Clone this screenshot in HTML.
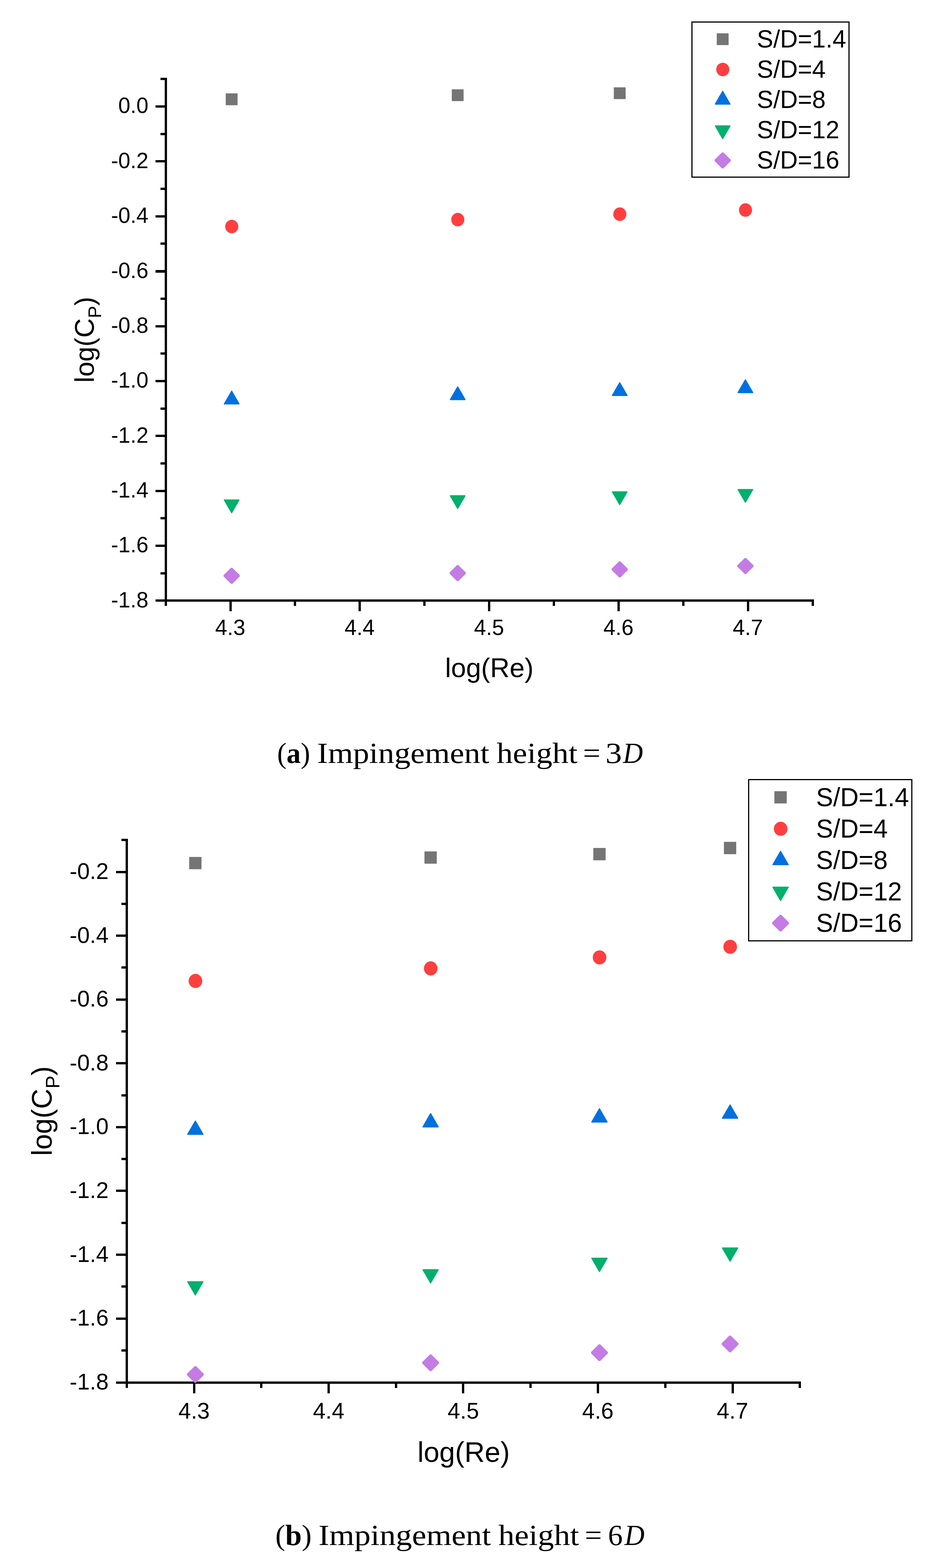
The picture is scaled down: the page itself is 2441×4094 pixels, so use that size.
<!DOCTYPE html>
<html lang="en">
<head>
<meta charset="utf-8">
<title>log(Cp) versus log(Re) for different S/D</title>
<style>
html,body{margin:0;padding:0;background:#fff;}
body{width:2441px;height:4094px;overflow:hidden;}
svg{display:block;}
</style>
</head>
<body>
<svg width="2441" height="4094" viewBox="0 0 2441 4094">
<rect x="0" y="0" width="2441" height="4094" fill="#fff"/>
<g fill="#000" shape-rendering="crispEdges">
<rect x="430" y="203" width="6" height="1379"/>
<rect x="406" y="1565" width="1719" height="6"/>
<rect x="419" y="203" width="11" height="6"/>
<rect x="406" y="275" width="24" height="6"/>
<rect x="419" y="347" width="11" height="6"/>
<rect x="406" y="418" width="24" height="6"/>
<rect x="419" y="490" width="11" height="6"/>
<rect x="406" y="562" width="24" height="6"/>
<rect x="419" y="633" width="11" height="6"/>
<rect x="406" y="705" width="24" height="7"/>
<rect x="419" y="777" width="11" height="6"/>
<rect x="406" y="849" width="24" height="6"/>
<rect x="419" y="920" width="11" height="6"/>
<rect x="406" y="992" width="24" height="6"/>
<rect x="419" y="1064" width="11" height="6"/>
<rect x="406" y="1135" width="24" height="6"/>
<rect x="419" y="1207" width="11" height="6"/>
<rect x="406" y="1279" width="24" height="6"/>
<rect x="419" y="1350" width="11" height="6"/>
<rect x="406" y="1422" width="24" height="6"/>
<rect x="419" y="1494" width="11" height="6"/>
<rect x="599" y="1571" width="6" height="25"/>
<rect x="767" y="1571" width="6" height="11"/>
<rect x="936" y="1571" width="6" height="25"/>
<rect x="1105" y="1571" width="6" height="11"/>
<rect x="1274" y="1571" width="6" height="25"/>
<rect x="1443" y="1571" width="6" height="11"/>
<rect x="1612" y="1571" width="6" height="25"/>
<rect x="1781" y="1571" width="6" height="11"/>
<rect x="1950" y="1571" width="6" height="25"/>
<rect x="2119" y="1571" width="6" height="11"/>
</g>
<g>
<rect x="589.35" y="243.75" width="30.9" height="30.9" rx="0.8" fill="#757575"/>
<rect x="1179.45" y="233.15" width="30.9" height="30.9" rx="0.8" fill="#757575"/>
<rect x="1602.45" y="227.95" width="30.9" height="30.9" rx="0.8" fill="#757575"/>
<rect x="1930.55" y="222.55" width="30.9" height="30.9" rx="0.8" fill="#757575"/>
<ellipse cx="605.05" cy="591.5" rx="17.1" ry="17.7" fill="#ff3f3f"/>
<ellipse cx="1195.15" cy="573.4" rx="17.1" ry="17.7" fill="#ff3f3f"/>
<ellipse cx="1618.15" cy="559.2" rx="17.1" ry="17.7" fill="#ff3f3f"/>
<ellipse cx="1946.25" cy="548.4" rx="17.1" ry="17.7" fill="#ff3f3f"/>
<polygon points="585.8,1054.55 623.8,1054.55 604.8,1021.55" fill="#0070e0" stroke="#0070e0" stroke-width="3" stroke-linejoin="round"/>
<polygon points="1175.9,1043.25 1213.9,1043.25 1194.9,1010.25" fill="#0070e0" stroke="#0070e0" stroke-width="3" stroke-linejoin="round"/>
<polygon points="1598.9,1032.4 1636.9,1032.4 1617.9,999.4" fill="#0070e0" stroke="#0070e0" stroke-width="3" stroke-linejoin="round"/>
<polygon points="1927,1024.9 1965,1024.9 1946,991.9" fill="#0070e0" stroke="#0070e0" stroke-width="3" stroke-linejoin="round"/>
<polygon points="585.8,1305.6 623.8,1305.6 604.8,1338.6" fill="#00b06c" stroke="#00b06c" stroke-width="3" stroke-linejoin="round"/>
<polygon points="1175.9,1294.5 1213.9,1294.5 1194.9,1327.5" fill="#00b06c" stroke="#00b06c" stroke-width="3" stroke-linejoin="round"/>
<polygon points="1598.9,1284.2 1636.9,1284.2 1617.9,1317.2" fill="#00b06c" stroke="#00b06c" stroke-width="3" stroke-linejoin="round"/>
<polygon points="1927,1278.3 1965,1278.3 1946,1311.3" fill="#00b06c" stroke="#00b06c" stroke-width="3" stroke-linejoin="round"/>
<polygon points="603.1,1482.4 606.5,1482.4 625.9,1501.6 625.9,1505 606.5,1524.2 603.1,1524.2 583.7,1505 583.7,1501.6" fill="#c47be3"/>
<polygon points="1193.2,1475.5 1196.6,1475.5 1216,1494.7 1216,1498.1 1196.6,1517.3 1193.2,1517.3 1173.8,1498.1 1173.8,1494.7" fill="#c47be3"/>
<polygon points="1616.2,1465.7 1619.6,1465.7 1639,1484.9 1639,1488.3 1619.6,1507.5 1616.2,1507.5 1596.8,1488.3 1596.8,1484.9" fill="#c47be3"/>
<polygon points="1944.3,1456.9 1947.7,1456.9 1967.1,1476.1 1967.1,1479.5 1947.7,1498.7 1944.3,1498.7 1924.9,1479.5 1924.9,1476.1" fill="#c47be3"/>
</g>
<g font-family='"Liberation Sans", sans-serif' font-size="56.6" fill="#000">
<g text-anchor="end">
<text transform="translate(387.5,295.44) scale(1,1.01)">0.0</text>
<text transform="translate(387.5,438.81) scale(1,1.01)">-0.2</text>
<text transform="translate(387.5,582.18) scale(1,1.01)">-0.4</text>
<text transform="translate(387.5,725.55) scale(1,1.01)">-0.6</text>
<text transform="translate(387.5,868.92) scale(1,1.01)">-0.8</text>
<text transform="translate(387.5,1012.28) scale(1,1.01)">-1.0</text>
<text transform="translate(387.5,1155.65) scale(1,1.01)">-1.2</text>
<text transform="translate(387.5,1299.02) scale(1,1.01)">-1.4</text>
<text transform="translate(387.5,1442.39) scale(1,1.01)">-1.6</text>
<text transform="translate(387.5,1585.76) scale(1,1.01)">-1.8</text>
</g>
<g text-anchor="middle">
<text transform="translate(601.11,1658.1) scale(1,1.01)">4.3</text>
<text transform="translate(938.93,1658.1) scale(1,1.01)">4.4</text>
<text transform="translate(1276.75,1658.1) scale(1,1.01)">4.5</text>
<text transform="translate(1614.57,1658.1) scale(1,1.01)">4.6</text>
<text transform="translate(1952.39,1658.1) scale(1,1.01)">4.7</text>
</g>
</g>
<text x="1277.5" y="1767.8" text-anchor="middle" font-family='"Liberation Sans", sans-serif' font-size="70.5" fill="#000">log(Re)</text>
<text transform="translate(245.1,887) rotate(-90)" text-anchor="middle" font-family='"Liberation Sans", sans-serif' font-size="70.5" fill="#000">log(C<tspan font-size="48.64" dy="19">P</tspan><tspan dy="-19">)</tspan></text>
<rect x="1806.5" y="57.5" width="410" height="405" fill="#fff" stroke="#000" stroke-width="3" shape-rendering="crispEdges"/>
<g font-family='"Liberation Sans", sans-serif' font-size="64" fill="#000">
<rect x="1871.25" y="86.95" width="30.9" height="30.9" rx="0.8" fill="#757575"/>
<text transform="translate(1976,124) scale(1,1.025)">S/D=1.4</text>
<ellipse cx="1886.95" cy="181.5" rx="17.1" ry="17.7" fill="#ff3f3f"/>
<text transform="translate(1976,203.1) scale(1,1.025)">S/D=4</text>
<polygon points="1867.7,271.65 1905.7,271.65 1886.7,238.65" fill="#0070e0" stroke="#0070e0" stroke-width="3" stroke-linejoin="round"/>
<text transform="translate(1976,282.2) scale(1,1.025)">S/D=8</text>
<polygon points="1867.7,328.65 1905.7,328.65 1886.7,361.65" fill="#00b06c" stroke="#00b06c" stroke-width="3" stroke-linejoin="round"/>
<text transform="translate(1976,361.3) scale(1,1.025)">S/D=12</text>
<polygon points="1885,397.9 1888.4,397.9 1907.8,417.1 1907.8,420.5 1888.4,439.7 1885,439.7 1865.6,420.5 1865.6,417.1" fill="#c47be3"/>
<text transform="translate(1976,440.4) scale(1,1.025)">S/D=16</text>
</g>
<g font-family='"Liberation Serif", serif' font-size="77" fill="#000">
<text x="723.42" y="1992.4" textLength="86.35" lengthAdjust="spacingAndGlyphs">(<tspan font-weight="bold">a</tspan>) </text>
<text x="828.12" y="1992.4" textLength="449.32" lengthAdjust="spacingAndGlyphs">Impingement </text>
<text x="1296.6" y="1992.4" textLength="211.21" lengthAdjust="spacingAndGlyphs">height </text>
<text x="1521.9" y="1992.4" textLength="45.61" lengthAdjust="spacingAndGlyphs">= </text>
<text x="1580.66" y="1992.4" textLength="42.72" lengthAdjust="spacingAndGlyphs">3</text>
<text x="1626.14" y="1992.4" textLength="52.17" lengthAdjust="spacingAndGlyphs"><tspan font-style="italic">D</tspan></text>
</g>
<g fill="#000" shape-rendering="crispEdges">
<rect x="328" y="2190" width="6" height="1434"/>
<rect x="303" y="3607" width="1788" height="6"/>
<rect x="317" y="2190" width="11" height="6"/>
<rect x="303" y="2274" width="25" height="6"/>
<rect x="317" y="2357" width="11" height="6"/>
<rect x="303" y="2440" width="25" height="6"/>
<rect x="317" y="2523" width="11" height="6"/>
<rect x="303" y="2607" width="25" height="6"/>
<rect x="317" y="2690" width="11" height="6"/>
<rect x="303" y="2773" width="25" height="6"/>
<rect x="317" y="2857" width="11" height="6"/>
<rect x="303" y="2940" width="25" height="6"/>
<rect x="317" y="3023" width="11" height="6"/>
<rect x="303" y="3106" width="25" height="6"/>
<rect x="317" y="3190" width="11" height="6"/>
<rect x="303" y="3273" width="25" height="6"/>
<rect x="317" y="3356" width="11" height="6"/>
<rect x="303" y="3440" width="25" height="6"/>
<rect x="317" y="3523" width="11" height="6"/>
<rect x="504" y="3613" width="6" height="25"/>
<rect x="679" y="3613" width="6" height="11"/>
<rect x="855" y="3613" width="6" height="25"/>
<rect x="1031" y="3613" width="6" height="11"/>
<rect x="1206" y="3613" width="6" height="25"/>
<rect x="1382" y="3613" width="6" height="11"/>
<rect x="1558" y="3613" width="6" height="25"/>
<rect x="1734" y="3613" width="6" height="11"/>
<rect x="1910" y="3613" width="6" height="25"/>
<rect x="2085" y="3613" width="6" height="11"/>
</g>
<g>
<rect x="493.93" y="2237.43" width="32.14" height="32.14" rx="0.8" fill="#757575"/>
<rect x="1108.13" y="2222.93" width="32.14" height="32.14" rx="0.8" fill="#757575"/>
<rect x="1548.93" y="2214.03" width="32.14" height="32.14" rx="0.8" fill="#757575"/>
<rect x="1889.93" y="2198.03" width="32.14" height="32.14" rx="0.8" fill="#757575"/>
<ellipse cx="510.25" cy="2561.2" rx="17.78" ry="18.41" fill="#ff3f3f"/>
<ellipse cx="1124.45" cy="2528.5" rx="17.78" ry="18.41" fill="#ff3f3f"/>
<ellipse cx="1565.25" cy="2499.8" rx="17.78" ry="18.41" fill="#ff3f3f"/>
<ellipse cx="1906.25" cy="2472.1" rx="17.78" ry="18.41" fill="#ff3f3f"/>
<polygon points="490.18,2961.62 529.82,2961.62 510,2927.18" fill="#0070e0" stroke="#0070e0" stroke-width="3" stroke-linejoin="round"/>
<polygon points="1104.38,2942.22 1144.02,2942.22 1124.2,2907.78" fill="#0070e0" stroke="#0070e0" stroke-width="3" stroke-linejoin="round"/>
<polygon points="1545.18,2929.52 1584.82,2929.52 1565,2895.08" fill="#0070e0" stroke="#0070e0" stroke-width="3" stroke-linejoin="round"/>
<polygon points="1886.18,2919.62 1925.82,2919.62 1906,2885.18" fill="#0070e0" stroke="#0070e0" stroke-width="3" stroke-linejoin="round"/>
<polygon points="490.18,3346.68 529.82,3346.68 510,3381.12" fill="#00b06c" stroke="#00b06c" stroke-width="3" stroke-linejoin="round"/>
<polygon points="1104.38,3315.18 1144.02,3315.18 1124.2,3349.62" fill="#00b06c" stroke="#00b06c" stroke-width="3" stroke-linejoin="round"/>
<polygon points="1545.18,3285.28 1584.82,3285.28 1565,3319.72" fill="#00b06c" stroke="#00b06c" stroke-width="3" stroke-linejoin="round"/>
<polygon points="1886.18,3258.38 1925.82,3258.38 1906,3292.82" fill="#00b06c" stroke="#00b06c" stroke-width="3" stroke-linejoin="round"/>
<polygon points="508.23,3567.06 511.77,3567.06 531.94,3587.03 531.94,3590.57 511.77,3610.54 508.23,3610.54 488.06,3590.57 488.06,3587.03" fill="#c47be3"/>
<polygon points="1122.43,3536.46 1125.97,3536.46 1146.14,3556.43 1146.14,3559.97 1125.97,3579.94 1122.43,3579.94 1102.26,3559.97 1102.26,3556.43" fill="#c47be3"/>
<polygon points="1563.23,3510.06 1566.77,3510.06 1586.94,3530.03 1586.94,3533.57 1566.77,3553.54 1563.23,3553.54 1543.06,3533.57 1543.06,3530.03" fill="#c47be3"/>
<polygon points="1904.23,3487.26 1907.77,3487.26 1927.94,3507.23 1927.94,3510.77 1907.77,3530.74 1904.23,3530.74 1884.06,3510.77 1884.06,3507.23" fill="#c47be3"/>
</g>
<g font-family='"Liberation Sans", sans-serif' font-size="59" fill="#000">
<g text-anchor="end">
<text transform="translate(283.5,2294.9) scale(1,1.01)">-0.2</text>
<text transform="translate(283.5,2461.54) scale(1,1.01)">-0.4</text>
<text transform="translate(283.5,2628.18) scale(1,1.01)">-0.6</text>
<text transform="translate(283.5,2794.82) scale(1,1.01)">-0.8</text>
<text transform="translate(283.5,2961.46) scale(1,1.01)">-1.0</text>
<text transform="translate(283.5,3128.1) scale(1,1.01)">-1.2</text>
<text transform="translate(283.5,3294.74) scale(1,1.01)">-1.4</text>
<text transform="translate(283.5,3461.38) scale(1,1.01)">-1.6</text>
<text transform="translate(283.5,3628.02) scale(1,1.01)">-1.8</text>
</g>
<g text-anchor="middle">
<text transform="translate(506.65,3703.5) scale(1,1.01)">4.3</text>
<text transform="translate(858.05,3703.5) scale(1,1.01)">4.4</text>
<text transform="translate(1209.45,3703.5) scale(1,1.01)">4.5</text>
<text transform="translate(1560.85,3703.5) scale(1,1.01)">4.6</text>
<text transform="translate(1912.25,3703.5) scale(1,1.01)">4.7</text>
</g>
</g>
<text x="1210.4" y="3817.3" text-anchor="middle" font-family='"Liberation Sans", sans-serif' font-size="73.5" fill="#000">log(Re)</text>
<text transform="translate(135.1,2901) rotate(-90)" text-anchor="middle" font-family='"Liberation Sans", sans-serif' font-size="73.5" fill="#000">log(C<tspan font-size="50.71" dy="20">P</tspan><tspan dy="-20">)</tspan></text>
<rect x="1954.5" y="2035.5" width="426" height="421" fill="#fff" stroke="#000" stroke-width="3" shape-rendering="crispEdges"/>
<g font-family='"Liberation Sans", sans-serif' font-size="66.6" fill="#000">
<rect x="2021.73" y="2065.73" width="32.14" height="32.14" rx="0.8" fill="#757575"/>
<text transform="translate(2130.5,2104.6) scale(1,1.04)">S/D=1.4</text>
<ellipse cx="2038.05" cy="2163.9" rx="17.78" ry="18.41" fill="#ff3f3f"/>
<text transform="translate(2130.5,2186.7) scale(1,1.04)">S/D=4</text>
<polygon points="2017.98,2257.55 2057.62,2257.55 2037.8,2223.11" fill="#0070e0" stroke="#0070e0" stroke-width="3" stroke-linejoin="round"/>
<text transform="translate(2130.5,2268.8) scale(1,1.04)">S/D=8</text>
<polygon points="2017.98,2316.55 2057.62,2316.55 2037.8,2350.99" fill="#00b06c" stroke="#00b06c" stroke-width="3" stroke-linejoin="round"/>
<text transform="translate(2130.5,2350.9) scale(1,1.04)">S/D=12</text>
<polygon points="2036.03,2388.46 2039.57,2388.46 2059.74,2408.43 2059.74,2411.97 2039.57,2431.94 2036.03,2431.94 2015.86,2411.97 2015.86,2408.43" fill="#c47be3"/>
<text transform="translate(2130.5,2433) scale(1,1.04)">S/D=16</text>
</g>
<g font-family='"Liberation Serif", serif' font-size="77" fill="#000">
<text x="718.88" y="4033.5" textLength="94.78" lengthAdjust="spacingAndGlyphs">(<tspan font-weight="bold">b</tspan>) </text>
<text x="831.51" y="4033.5" textLength="450.32" lengthAdjust="spacingAndGlyphs">Impingement </text>
<text x="1301" y="4033.5" textLength="210.81" lengthAdjust="spacingAndGlyphs">height </text>
<text x="1526.79" y="4033.5" textLength="44.64" lengthAdjust="spacingAndGlyphs">= </text>
<text x="1587.2" y="4033.5" textLength="38.5" lengthAdjust="spacingAndGlyphs">6</text>
<text x="1630.54" y="4033.5" textLength="52.07" lengthAdjust="spacingAndGlyphs"><tspan font-style="italic">D</tspan></text>
</g>
</svg>
</body>
</html>
